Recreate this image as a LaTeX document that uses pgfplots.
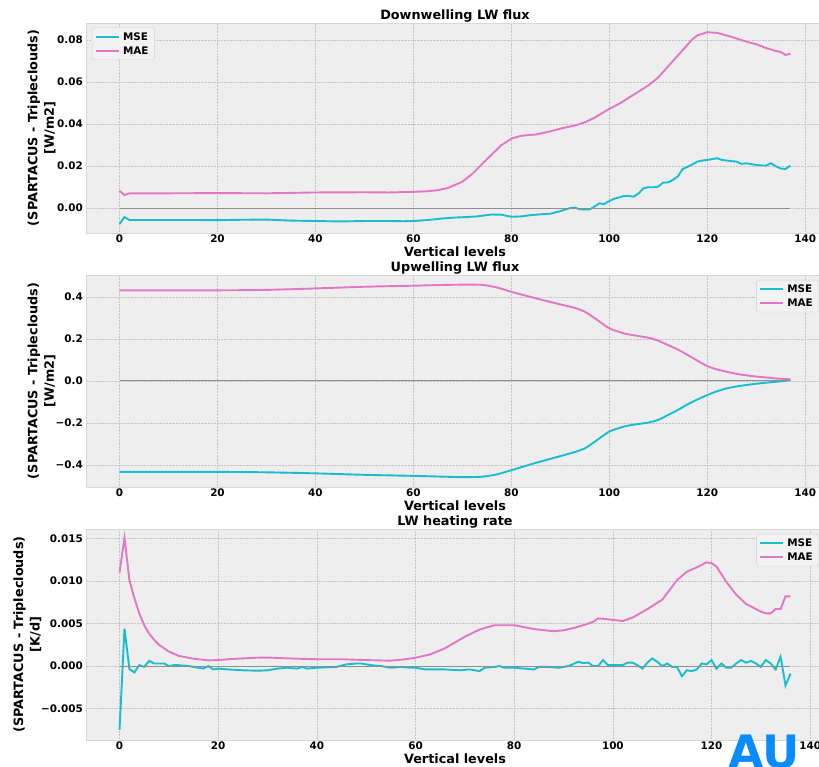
\documentclass[border=0pt]{standalone}
\usepackage{fontspec}
\setmainfont{DejaVu Sans}
\usepackage{pgfplots}
\pgfplotsset{compat=1.18}
\definecolor{msec}{HTML}{17BECF}
\definecolor{maec}{HTML}{E377C2}
\definecolor{bgc}{HTML}{EEEEEE}
\definecolor{gridc}{HTML}{C6C6C6}
\definecolor{zeroc}{HTML}{8E8E8E}
\definecolor{legc}{HTML}{F2F2F2}
\definecolor{legd}{HTML}{D2D2D2}
\definecolor{edgec}{HTML}{D8D8D8}
\definecolor{logoc}{HTML}{0A8CFF}
\newcommand{\tickfont}{\fontsize{10.4}{12}\selectfont\bfseries}
\newcommand{\labfont}{\fontsize{12.8}{16.5}\selectfont\bfseries}
\pgfplotsset{
  myax/.style={
    anchor=south west,
    scale only axis,
    width=738pt,
    axis background/.style={fill=bgc},
    axis line style={edgec, line width=0.8pt},
    grid=major,
    major grid style={gridc, line width=0.45pt, densely dotted},
    major tick length=0pt,
    tick align=outside,
    xtick={0,20,...,140},
    scaled y ticks=false,
    /pgf/number format/assume math mode=true,
    tick label style={font=\tickfont, inner sep=0pt},
    yticklabel style={xshift=-3pt},
    xticklabel style={yshift=-1.5pt},
    xlabel={Vertical levels},
    xlabel style={font=\labfont, at={(axis description cs:0.5,0)}, anchor=north, yshift=-13.5pt, inner sep=0pt},
    ylabel style={font=\labfont, align=center, at={(axis description cs:-0.0603,0.5)}, anchor=center, inner sep=0pt},
    title style={font=\labfont, at={(axis description cs:0.5,1)}, anchor=base, yshift=-2.5pt, inner sep=0pt},
    legend style={font=\tickfont, fill=legc, draw=legd, rounded corners=2.5pt,
      inner xsep=2.5pt, inner ysep=3pt, row sep=2.5pt,
      nodes={inner ysep=2pt, inner xsep=3.5pt, text depth=0pt}},
    legend cell align=left,
    legend image code/.code={\draw[#1] (0pt,0pt) -- (23pt,0pt);},
    every axis plot/.append style={line width=1.9pt},
  },
}
\begin{document}
\begin{tikzpicture}[x=1pt,y=1pt]
\path[use as bounding box] (0,0) rectangle (819,766);
% ---------------- Panel 1 ----------------
\begin{axis}[myax, at={(86pt,533pt)}, height=210pt,
  xmin=-6.85, xmax=143.85, ymin=-0.0119, ymax=0.0881,
  ytick={0,0.02,0.04,0.06,0.08}, yticklabels={0.00,0.02,0.04,0.06,0.08},
  ylabel={(SPARTACUS - Tripleclouds)\\{[W/m2]}},
  title={Downwelling LW flux},
  legend style={at={(axis description cs:0,1)}, anchor=north west, xshift=6pt, yshift=-4.5pt}]
\addplot[msec] coordinates {
(0,-0.0076)(1,-0.0043)(2,-0.0057)(5,-0.0057)(10,-0.0057)(15,-0.0057)(20,-0.0058)(25,-0.0056)(30,-0.0055)(35,-0.0060)(40,-0.0062)(45,-0.0064)(50,-0.0062)(55,-0.0062)(58,-0.0063)(60,-0.0062)(63,-0.0057)(65,-0.0052)(68,-0.0046)(70,-0.0044)(73,-0.0040)(76,-0.0031)(78,-0.0032)(80,-0.0042)(82,-0.0040)(84,-0.0034)(86,-0.0030)(88,-0.0027)(90,-0.0015)(92,0.0000)(93,0.0002)(94,-0.0006)(96,-0.0007)(98,0.0022)(99,0.0019)(100,0.0033)(101,0.0044)(103,0.0057)(104,0.0057)(105,0.0054)(106,0.0070)(107,0.0094)(108,0.0099)(109,0.0099)(110,0.0102)(111,0.0121)(112,0.0122)(113,0.0134)(114,0.0150)(115,0.0186)(116,0.0196)(117,0.0208)(118,0.0221)(119,0.0226)(120,0.0229)(121,0.0233)(122,0.0237)(123,0.0229)(124,0.0226)(125,0.0223)(126,0.0221)(127,0.0210)(128,0.0213)(129,0.0209)(130,0.0205)(131,0.0203)(132,0.0202)(133,0.0213)(134,0.0199)(135,0.0188)(136,0.0186)(137,0.0202)};
\addlegendentry{MSE}
\addplot[maec] coordinates {
(0,0.0082)(1,0.0062)(2,0.0070)(10,0.0070)(20,0.0071)(30,0.0070)(40,0.0074)(50,0.0075)(55,0.0074)(60,0.0077)(63,0.0080)(65,0.0085)(67,0.0095)(70,0.0125)(72,0.0162)(75,0.0232)(78,0.0300)(80,0.0330)(82,0.0344)(85,0.0350)(88,0.0365)(90,0.0378)(93,0.0393)(95,0.0408)(97,0.0430)(100,0.0472)(102,0.0496)(105,0.0540)(108,0.0584)(110,0.0622)(113,0.0700)(115,0.0752)(117,0.0804)(118,0.0822)(120,0.0837)(122,0.0834)(125,0.0815)(128,0.0792)(130,0.0780)(132,0.0762)(134,0.0748)(135,0.0743)(136,0.0729)(137,0.0735)};
\addlegendentry{MAE}
\addplot[zeroc, line width=1pt, forget plot] coordinates {(0,0) (137,0)};
\end{axis}
% ---------------- Panel 2 ----------------
\begin{axis}[myax, at={(86pt,279pt)}, height=212pt,
  xmin=-6.85, xmax=143.85, ymin=-0.505, ymax=0.505,
  ytick={-0.4,-0.2,0,0.2,0.4}, yticklabels={−0.4,−0.2,0.0,0.2,0.4},
  ylabel={(SPARTACUS - Tripleclouds)\\{[W/m2]}},
  title={Upwelling LW flux},
  legend style={at={(axis description cs:1,1)}, anchor=north east, xshift=-5pt, yshift=-5pt}]
\addplot[msec, smooth, tension=0.4] coordinates {
(0,-0.433)(10,-0.433)(20,-0.433)(30,-0.435)(40,-0.440)(50,-0.447)(60,-0.452)(65,-0.455)(70,-0.458)(74,-0.456)(77,-0.445)(80,-0.425)(85,-0.390)(90,-0.358)(93,-0.338)(95,-0.321)(97,-0.290)(100,-0.241)(103,-0.217)(105,-0.208)(108,-0.198)(110,-0.185)(112,-0.162)(114,-0.138)(116,-0.111)(118,-0.088)(120,-0.067)(122,-0.049)(124,-0.035)(126,-0.026)(128,-0.019)(130,-0.013)(132,-0.008)(134,-0.004)(137,0.004)};
\addlegendentry{MSE}
\addplot[maec, smooth, tension=0.4] coordinates {
(0,0.432)(10,0.432)(20,0.432)(30,0.434)(40,0.441)(50,0.449)(60,0.454)(65,0.457)(70,0.459)(74,0.458)(77,0.446)(80,0.425)(85,0.394)(90,0.365)(93,0.348)(95,0.330)(97,0.300)(100,0.251)(103,0.227)(105,0.218)(108,0.206)(110,0.192)(112,0.171)(114,0.150)(116,0.124)(118,0.097)(120,0.071)(122,0.055)(124,0.044)(126,0.034)(128,0.027)(130,0.021)(132,0.017)(134,0.012)(137,0.008)};
\addlegendentry{MAE}
\addplot[zeroc, line width=1pt, forget plot] coordinates {(0,0) (137,0)};
\end{axis}
% ---------------- Panel 3 ----------------
\begin{axis}[myax, at={(86pt,26pt)}, height=211pt,
  xmin=-6.8, xmax=142.8, ymin=-0.0087, ymax=0.01612,
  ytick={-0.005,0,0.005,0.010,0.015}, yticklabels={−0.005,0.000,0.005,0.010,0.015},
  ylabel={(SPARTACUS - Tripleclouds)\\{[K/d]}},
  ylabel style={at={(axis description cs:-0.0793,0.5)}},
  title={LW heating rate},
  legend style={at={(axis description cs:1,1)}, anchor=north east, xshift=-5pt, yshift=-5pt}]
\addplot[msec] coordinates {
(0,-0.0075)(1,0.0044)(2,-0.00035)(3,-0.00075)(4,0.0001)(5,-0.0001)(6,0.0006)(7,0.0003)(8,0.0003)(9,0.0003)(10,0.0)(11,0.0001)(12,0.0001)(14,0.0)(16,-0.0002)(17,-0.0003)(18,0.0)(19,-0.0004)(20,-0.0003)(22,-0.0004)(25,-0.0005)(28,-0.00055)(30,-0.0005)(32,-0.0003)(34,-0.0002)(36,-0.0003)(37,-0.0001)(38,-0.0003)(40,-0.0002)(44,-0.0001)(46,0.0002)(48,0.0003)(49,0.0003)(51,0.0001)(53,0.0)(55,-0.0002)(57,-0.0001)(59,-0.0002)(60,-0.0002)(62,-0.0004)(64,-0.0004)(66,-0.0004)(69,-0.0005)(71,-0.0004)(73,-0.0006)(74,-0.0002)(76,-0.0001)(77,0.0)(78,-0.0002)(80,-0.0002)(82,-0.0003)(84,-0.0004)(85,-0.0001)(87,-0.0001)(89,-0.0002)(90,-0.0001)(91,0.0)(93,0.0005)(94,0.00035)(95,0.0004)(96,0.0)(97,0.0)(98,0.0007)(99,0.0001)(100,0.0001)(101,0.0001)(102,0.0001)(103,0.0004)(104,0.0004)(105,0.0001)(106,-0.0003)(107,0.0004)(108,0.0009)(109,0.0005)(110,0.0)(111,0.0003)(112,-0.0001)(113,-0.0001)(114,-0.0012)(115,-0.0005)(116,-0.0006)(117,-0.0004)(118,0.0003)(119,0.0002)(120,0.0007)(121,-0.0003)(122,0.0003)(123,-0.0002)(124,-0.0002)(125,0.0003)(126,0.0007)(127,0.0004)(128,0.0006)(129,0.0003)(130,-0.0001)(131,0.0007)(132,0.0003)(133,-0.0004)(134,0.0011)(135,-0.0023)(136,-0.0009)};
\addlegendentry{MSE}
\addplot[maec] coordinates {
(0,0.0110)(1,0.0151)(2,0.0101)(3,0.0080)(4,0.0062)(5,0.0048)(6,0.0038)(7,0.0031)(8,0.0025)(9,0.0021)(10,0.0017)(12,0.0012)(15,0.00086)(18,0.00067)(20,0.0007)(22,0.0008)(25,0.0009)(28,0.00098)(30,0.0010)(35,0.00088)(40,0.0008)(45,0.0008)(50,0.0007)(55,0.00063)(58,0.0008)(60,0.00098)(63,0.00137)(66,0.0021)(70,0.00345)(73,0.0043)(76,0.0048)(80,0.0048)(84,0.00435)(88,0.0041)(90,0.0042)(92,0.00447)(94,0.0048)(96,0.0052)(97,0.0056)(99,0.0055)(102,0.0053)(104,0.0057)(107,0.0067)(110,0.0078)(113,0.0101)(115,0.0111)(117,0.0116)(119,0.0122)(120,0.0121)(121,0.0117)(123,0.0099)(125,0.0084)(127,0.0073)(129,0.0067)(130,0.0064)(131,0.0062)(132,0.0062)(133,0.0067)(134,0.0067)(135,0.0082)(136,0.0082)};
\addlegendentry{MAE}
\addplot[zeroc, line width=1pt, forget plot] coordinates {(0,0) (136,0)};
\end{axis}
% logo (partly outside the page, as in the reference)
\node[anchor=north west, inner sep=0pt, text=logoc, font=\fontsize{46}{46}\selectfont\bfseries] at (728,31) {AU};
\end{tikzpicture}
\end{document}
